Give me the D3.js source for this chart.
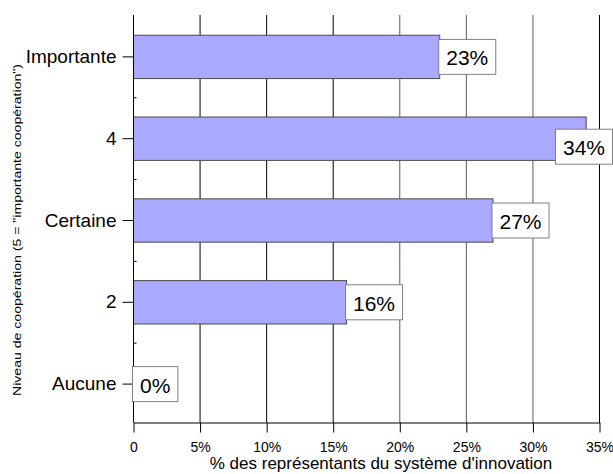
<!DOCTYPE html>
<html>
<head>
<meta charset="utf-8">
<script src="https://cdn.jsdelivr.net/npm/d3@7"></script>
<style>
  html, body { margin: 0; padding: 0; background: #fff; }
  svg { display: block; font-family: Arial, "Liberation Sans", sans-serif; }
</style>
</head>
<body>
<svg id="chart" width="613" height="474"></svg>
<script>
// Cooperation level (top to bottom) and share of respondents
const categories = ["Importante", "4", "Certaine", "2", "Aucune"];
const shares = [0.23, 0.34, 0.27, 0.16, 0.0];
const xTickValues = [0, 0.05, 0.10, 0.15, 0.20, 0.25, 0.30, 0.35];
const xTickLabels = ["0", "5%", "10%", "15%", "20%", "25%", "30%", "35%"];
const xTitle = "% des représentants du système d'innovation";
const yTitle = "Niveau de coopération (5 = \"importante coopération\")";

const W = 613, H = 474;
const plot = { left: 133.5, right: 599.5, top: 15, bottom: 422.5 };
const fontFamily = "Arial, Liberation Sans, sans-serif";

const svg = d3.select("#chart");

const x = d3.scaleLinear().domain([0, 0.35]).range([plot.left, plot.right]);
const y = d3.scaleBand().domain(categories).range([16, 425]).paddingInner(0.47).paddingOuter(0.235);

// Vertical gridlines
svg.append("g")
  .selectAll("line")
  .data(xTickValues.slice(1))
  .join("line")
  .attr("x1", d => x(d)).attr("x2", d => x(d))
  .attr("y1", plot.top).attr("y2", plot.bottom)
  .attr("stroke", (d, i) => i < 3 || i === 6 ? "#000" : "#5a5a5a")
  .attr("stroke-width", 1);

// Bars
svg.append("g")
  .selectAll("rect")
  .data(categories.map((c, i) => ({ c, v: shares[i] })))
  .join("rect")
  .attr("x", x(0))
  .attr("y", d => y(d.c))
  .attr("width", d => x(d.v) - x(0))
  .attr("height", y.bandwidth())
  .attr("fill", "#a9a9ff")
  .attr("stroke", "#4a4a4a")
  .attr("stroke-width", 1);

// X axis
const xAxis = d3.axisBottom(x)
  .tickValues(xTickValues)
  .tickFormat((d, i) => xTickLabels[i])
  .tickSize(10)
  .tickPadding(10)
  .tickSizeOuter(0);
const gx = svg.append("g").attr("transform", `translate(0,${plot.bottom})`).call(xAxis);
gx.select(".domain").attr("stroke", "#000");
gx.selectAll(".tick line").attr("stroke", "#000");
gx.selectAll(".tick text").attr("font-size", 14).attr("fill", "#000")
  .attr("font-family", fontFamily);

// Y axis
const yAxis = d3.axisLeft(y).tickSize(11).tickPadding(6).tickSizeOuter(0);
const gy = svg.append("g").attr("transform", `translate(${plot.left},0)`).call(yAxis);
gy.select(".domain").attr("d", `M0,${plot.top}V${plot.bottom}`).attr("stroke", "#000");
gy.selectAll(".tick line").attr("stroke", "#000");
gy.selectAll(".tick text").attr("font-size", 19).attr("fill", "#000")
  .attr("font-family", fontFamily);

// Small inner ticks between categories
const step = y.step();
svg.append("g")
  .selectAll("line")
  .data(categories.slice(1))
  .join("line")
  .attr("x1", plot.left).attr("x2", plot.left + 3)
  .attr("y1", d => y(d) + y.bandwidth() / 2 - step / 2)
  .attr("y2", d => y(d) + y.bandwidth() / 2 - step / 2)
  .attr("stroke", "#000");

// Value labels in boxes
const labelFont = 21;
const labels = svg.append("g");
categories.forEach((c, i) => {
  const v = shares[i];
  const txt = d3.format(".0%")(v);
  const g = labels.append("g");
  const t = g.append("text")
    .attr("font-size", labelFont)
    .attr("fill", "#000")
    .attr("dominant-baseline", "central")
    .text(txt);
  const tw = t.node().getComputedTextLength();
  const bw = tw + 15, bh = 35;
  let bx = x(v) - 1;
  const cy = y(c) + y.bandwidth() / 2;
  let by = cy - bh / 2;
  if (bx + bw > W) { bx = W - bw - 0.5; by += 8; }
  g.insert("rect", "text")
    .attr("x", bx).attr("y", by)
    .attr("width", bw).attr("height", bh)
    .attr("fill", "#fff").attr("stroke", "#808080").attr("stroke-width", 1);
  t.attr("x", bx + bw / 2).attr("y", by + bh / 2 + 1).attr("text-anchor", "middle");
});

// Axis titles
svg.append("text")
  .attr("x", 381).attr("y", 469)
  .attr("text-anchor", "middle")
  .attr("font-size", 17)
  .attr("fill", "#000")
  .text(xTitle);

svg.append("text")
  .attr("transform", "translate(20.5,230) rotate(-90)")
  .attr("text-anchor", "middle")
  .attr("font-size", 11)
  .attr("textLength", 332)
  .attr("lengthAdjust", "spacingAndGlyphs")
  .attr("fill", "#000")
  .text(yTitle);
</script>
</body>
</html>
